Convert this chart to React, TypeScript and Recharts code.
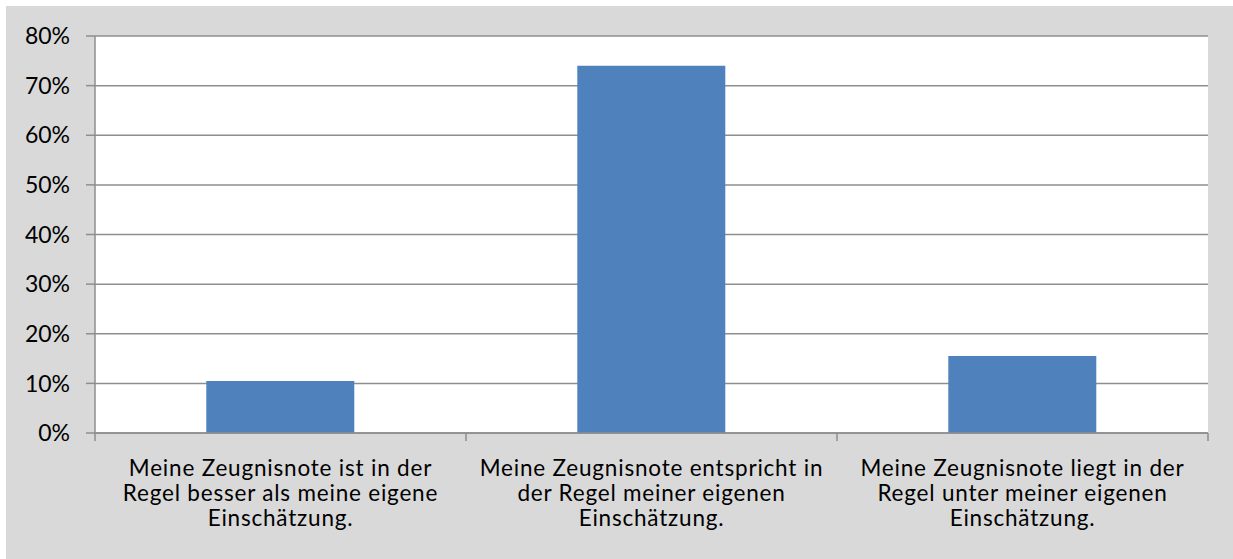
import React from "react";
import { BarChart, Bar, XAxis, YAxis, CartesianGrid } from "recharts";

const categories = [
  "Meine Zeugnisnote ist in der Regel besser als meine eigene Einschätzung.",
  "Meine Zeugnisnote entspricht in der Regel meiner eigenen Einschätzung.",
  "Meine Zeugnisnote liegt in der Regel unter meiner eigenen Einschätzung.",
];
const categoryLines = [
  ["Meine Zeugnisnote ist in der", "Regel besser als meine eigene", "Einschätzung."],
  ["Meine Zeugnisnote entspricht in", "der Regel meiner eigenen", "Einschätzung."],
  ["Meine Zeugnisnote liegt in der", "Regel unter meiner eigenen", "Einschätzung."],
];
const shares = [10.5, 74, 15.5];
const yTicks = [0, 10, 20, 30, 40, 50, 60, 70, 80];

const data = categories.map((name, i) => ({ name, value: shares[i], idx: i }));

const FONT = "Lato, 'Open Sans', sans-serif";
const AXIS = "#8e8e8e";

function CategoryTick(props: any) {
  const { x, y, payload, index } = props;
  const half = payload?.offset ?? 185.5;
  const lines = categoryLines[index] ?? [String(payload.value)];
  const top = y - 8;
  return (
    <g>
      <line x1={x - half} x2={x - half} y1={top} y2={top + 8} stroke={AXIS} strokeWidth={1.5} />
      {index === categories.length - 1 && (
        <line x1={x + half} x2={x + half} y1={top} y2={top + 8} stroke={AXIS} strokeWidth={1.5} />
      )}
      <text textAnchor="middle" fill="#000" fontSize={22.5} letterSpacing={0.8} fontFamily={FONT}>
        {lines.map((l, i) => (
          <tspan key={i} x={x} y={top + 43 + i * 25}>
            {l}
          </tspan>
        ))}
      </text>
    </g>
  );
}

export default function App() {
  return (
    <div
      style={{
        position: "absolute",
        left: 6,
        top: 6,
        width: 1227,
        height: 553,
        background: "#d9d9d9",
      }}
    >
      <BarChart
        width={1227}
        height={553}
        data={data}
        margin={{ top: 30, right: 25, bottom: 0, left: 0 }}
        barCategoryGap="30%"
      >
        <CartesianGrid vertical={false} fill="#ffffff" stroke={AXIS} strokeWidth={1.5} />
        <XAxis
          dataKey="name"
          height={126}
          interval={0}
          stroke={AXIS}
          strokeWidth={1.5}
          tickLine={false}
          tick={<CategoryTick />}
        />
        <YAxis
          width={89}
          domain={[0, 80]}
          ticks={yTicks}
          interval={0}
          tickFormatter={(v: number) => `${v}%`}
          stroke={AXIS}
          strokeWidth={1.5}
          tickSize={9}
          tickMargin={16}
          tick={{ fill: "#000", fontSize: 23, fontFamily: FONT }}
        />
        <Bar dataKey="value" fill="#4f81bd" isAnimationActive={false} />
      </BarChart>
    </div>
  );
}
